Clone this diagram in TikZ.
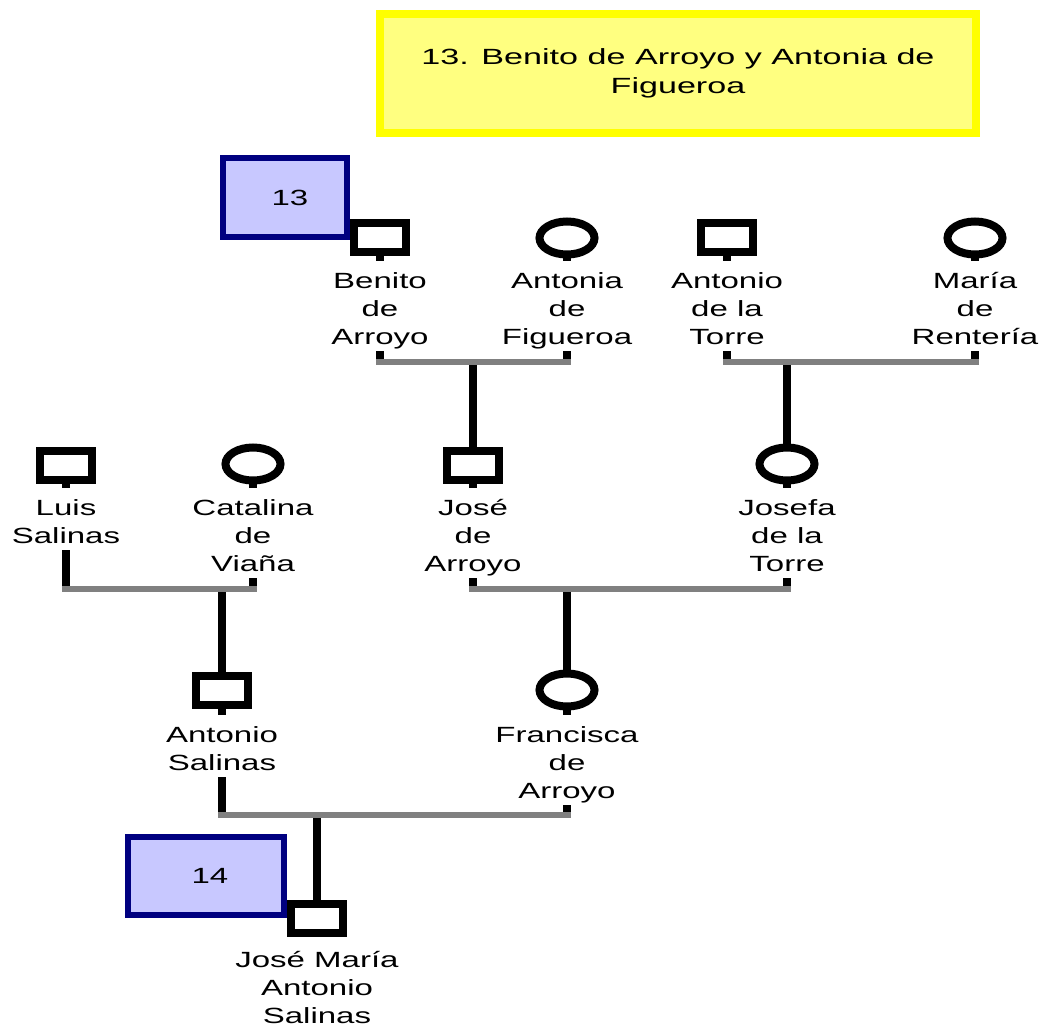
\documentclass[tikz,border=0pt]{standalone}
\usepackage{fontspec}
\setmainfont{Liberation Sans}[FakeStretch=1.5]
\newfontfamily\titlefont{Liberation Sans}[FakeStretch=1.55]
\usetikzlibrary{shapes.geometric,backgrounds}
\definecolor{titlefill}{HTML}{FFFF80}
\definecolor{titleborder}{HTML}{FFFF00}
\definecolor{boxfill}{HTML}{C8C8FF}
\definecolor{boxborder}{HTML}{000080}
\definecolor{mgray}{HTML}{808080}
\newcommand\TS{\rule{0pt}{27pt}}
\newcommand\BS{\rule[-7pt]{0pt}{7pt}}
\begin{document}
\begin{tikzpicture}[x=1pt,y=-1pt,
  male/.style={rectangle,draw=black,fill=white,line width=8pt,minimum width=52pt,minimum height=29pt,inner sep=0pt},
  female/.style={ellipse,draw=black,fill=white,line width=8pt,minimum width=55pt,minimum height=33pt,inner sep=0pt},
  pname/.style={anchor=north,fill=white,align=center,inner xsep=1pt,inner ysep=0pt,font=\fontsize{22pt}{28pt}\selectfont},
  numbox/.style={rectangle,draw=boxborder,fill=boxfill,line width=6pt,inner sep=0pt,font=\fontsize{22pt}{28pt}\selectfont},
  titlebox/.style={rectangle,draw=titleborder,fill=titlefill,line width=8pt,inner sep=0pt,align=center,font=\titlefont\fontsize{22pt}{29pt}\selectfont},
  life/.style={line width=8pt,black},
  union/.style={line width=5.5pt,mgray,shorten <=-4pt,shorten >=-4pt}]
\useasboundingbox (0,0) rectangle (1041,1028);

% title and number boxes
\node[titlebox,minimum width=596pt,minimum height=119pt] (title) at (678,73.5)
  {13. Benito de Arroyo y Antonia de\\Figueroa};
\node[numbox,minimum width=124pt,minimum height=79pt,text width=124pt,align=center] (b13) at (285,197.5) {\hspace*{10pt}13};
\node[numbox,minimum width=156pt,minimum height=78pt,text width=156pt,align=center] (b14) at (206,876) {\hspace*{8pt}14};

% row 1
\node[male]   (benito)   at (380,237.5) {};
\node[female] (antonia)  at (567,238) {};
\node[male]   (antorre)  at (727,237.5) {};
\node[female] (maria)    at (975,238) {};
\node[pname] (nbenito)  at (380,261) {\TS Benito\\de\\Arroyo\BS};
\node[pname] (nantonia) at (567,261) {\TS Antonia\\de\\Figueroa\BS};
\node[pname] (nantorre) at (727,261) {\TS Antonio\\de la\\Torre\BS};
\node[pname] (nmaria)   at (975,261) {\TS María\\de\\Rentería\BS};

% row 2
\node[male]   (luis)     at (66,465) {};
\node[female] (catalina) at (253,464) {};
\node[male]   (jose)     at (473,465) {};
\node[female] (josefa)   at (787,464) {};
\node[pname] (nluis)     at (66,488)  {\TS Luis\\Salinas\BS};
\node[pname] (ncatalina) at (253,488) {\TS Catalina\\de\\Viaña\BS};
\node[pname] (njose)     at (473,488) {\TS José\\de\\Arroyo\BS};
\node[pname] (njosefa)   at (787,488) {\TS Josefa\\de la\\Torre\BS};

% row 3
\node[male]   (antonio)   at (222,690.5) {};
\node[female] (francisca) at (567,690) {};
\node[pname] (nantonio)   at (222,715) {\TS Antonio\\Salinas\BS};
\node[pname] (nfrancisca) at (567,715) {\TS Francisca\\de\\Arroyo\BS};

% row 4
\node[male] (josemaria) at (317,918.5) {};
\node[pname] (njosemaria) at (317,940) {\TS José María\\Antonio\\Salinas\BS};

% union levels
\coordinate (u1) at (474,362);
\coordinate (u2) at (788,362);
\coordinate (u3) at (222,589);
\coordinate (u4) at (567,589);
\coordinate (u5) at (317,815);

\begin{scope}[on background layer]
  % lines from partners down to the union lines
  \draw[life] (benito.center)  -- (benito |- u1);
  \draw[life] (antonia.center) -- (antonia |- u1);
  \draw[life] (antorre.center) -- (antorre |- u2);
  \draw[life] (maria.center)   -- (maria |- u2);
  \draw[life] (luis.center)     -- (luis |- u3);
  \draw[life] (catalina.center) -- (catalina |- u3);
  \draw[life] (jose.center)     -- (jose |- u4);
  \draw[life] (josefa.center)   -- (josefa |- u4);
  \draw[life] (antonio.center)   -- (antonio |- u5);
  \draw[life] (francisca.center) -- (francisca |- u5);
  % drops from unions to children
  \draw[life] (jose |- u1) -- (jose.center);
  \draw[life] (josefa |- u2) -- (josefa.center);
  \draw[life] (antonio |- u3) -- (antonio.center);
  \draw[life] (francisca |- u4) -- (francisca.center);
  \draw[life] (josemaria |- u5) -- (josemaria.center);
  % union lines
  \draw[union] (benito |- u1) -- (antonia |- u1);
  \draw[union] (antorre |- u2) -- (maria |- u2);
  \draw[union] (luis |- u3) -- (catalina |- u3);
  \draw[union] (jose |- u4) -- (josefa |- u4);
  \draw[union] (antonio |- u5) -- (francisca |- u5);
\end{scope}
\end{tikzpicture}
\end{document}
